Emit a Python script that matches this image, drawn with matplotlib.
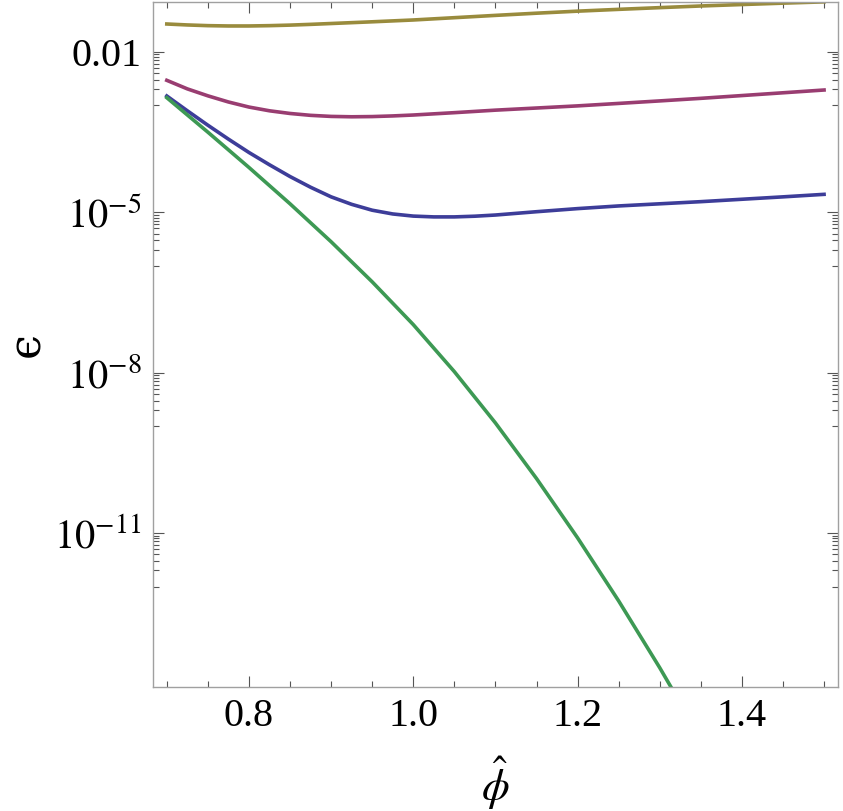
import numpy as np
import matplotlib
matplotlib.use("Agg")
import matplotlib.pyplot as plt
from matplotlib.ticker import FixedLocator, NullFormatter

plt.rcParams['font.family'] = ['Liberation Serif', 'DejaVu Serif']
plt.rcParams['mathtext.fontset'] = 'stix'

# phi-hat and log10(epsilon)
phi_olive = [0.700, 0.725, 0.750, 0.775, 0.800, 0.825, 0.850, 0.875, 0.900, 0.950,
             1.000, 1.050, 1.100, 1.150, 1.200, 1.250, 1.300, 1.350, 1.400, 1.450, 1.500]
log_olive = [-1.476, -1.494, -1.507, -1.513, -1.513, -1.507, -1.497, -1.483, -1.467, -1.435,
             -1.401, -1.358, -1.315, -1.274, -1.236, -1.202, -1.170, -1.139, -1.112, -1.086, -1.062]

phi_magenta = [0.700, 0.725, 0.750, 0.775, 0.800, 0.825, 0.850, 0.875, 0.900, 0.925,
               0.950, 0.975, 1.000, 1.050, 1.100, 1.150, 1.200, 1.250, 1.300, 1.350,
               1.400, 1.450, 1.500]
log_magenta = [-2.530, -2.690, -2.820, -2.935, -3.030, -3.100, -3.150, -3.185, -3.205, -3.212,
               -3.208, -3.196, -3.179, -3.135, -3.088, -3.048, -3.008, -2.962, -2.915, -2.867,
               -2.815, -2.763, -2.711]

phi_blue = [0.700, 0.725, 0.750, 0.775, 0.800, 0.825, 0.850, 0.875, 0.900, 0.925,
            0.950, 0.975, 1.000, 1.025, 1.050, 1.075, 1.100, 1.150, 1.200, 1.250,
            1.300, 1.350, 1.400, 1.450, 1.500]
log_blue = [-2.823, -3.100, -3.370, -3.630, -3.880, -4.110, -4.330, -4.530, -4.710, -4.850,
            -4.960, -5.030, -5.070, -5.085, -5.085, -5.072, -5.050, -4.988, -4.930, -4.880,
            -4.840, -4.800, -4.755, -4.710, -4.663]

phi_green = [0.70, 0.75, 0.80, 0.85, 0.90, 0.95, 1.00, 1.05, 1.10, 1.15,
             1.20, 1.25, 1.30, 1.35]
log_green = [-2.855, -3.500, -4.160, -4.840, -5.550, -6.300, -7.100, -7.980, -8.940, -9.980,
             -11.090, -12.270, -13.520, -14.840]

colors = {
    'olive': (0.6, 0.547, 0.24),
    'magenta': (0.6, 0.24, 0.4428),
    'blue': (0.24, 0.24, 0.6),
    'green': (0.24, 0.6, 0.33),
}

fig = plt.figure(figsize=(8.43, 8.11), dpi=100)
ax = fig.add_axes([0.1811, 0.1529, 0.9941 - 0.1811, 0.9979 - 0.1529])

lw = 2.6
ax.plot(phi_olive, 10 ** np.array(log_olive), color=colors['olive'], lw=lw)
ax.plot(phi_magenta, 10 ** np.array(log_magenta), color=colors['magenta'], lw=lw)
ax.plot(phi_blue, 10 ** np.array(log_blue), color=colors['blue'], lw=lw)
ax.plot(phi_green, 10 ** np.array(log_green), color=colors['green'], lw=lw)

ax.set_yscale('log')
ax.set_xlim(0.6828, 1.517)
ax.set_ylim(10 ** -13.88, 10 ** -1.059)

# ticks
ax.xaxis.set_major_locator(FixedLocator([0.8, 1.0, 1.2, 1.4]))
ax.xaxis.set_minor_locator(FixedLocator(np.arange(0.70, 1.51, 0.05)))
ax.set_xticklabels(['0.8', '1.0', '1.2', '1.4'])

major_exp = [-2, -5, -8, -11]
ax.yaxis.set_major_locator(FixedLocator([10.0 ** e for e in major_exp]))
ax.set_yticklabels(['0.01', r'$10^{-5}$', r'$10^{-8}$', r'$10^{-11}$'])
minor_y = []
for e in major_exp:
    for k in range(1, 10):
        minor_y.append(k * 10.0 ** (e - 1))
ax.yaxis.set_minor_locator(FixedLocator(minor_y))
ax.yaxis.set_minor_formatter(NullFormatter())

ax.tick_params(which='both', direction='in', top=True, right=True,
               color='#555555', width=0.8)
ax.tick_params(which='major', length=8, labelsize=29, pad=8)
ax.tick_params(which='minor', length=4)

for s in ax.spines.values():
    s.set_color('#a0a0a0')
    s.set_linewidth(1.0)

# lunate epsilon as a plain character
ax.set_ylabel('\u03f5', fontsize=32, rotation=90, labelpad=4,
              family=['DejaVu Serif'])
ax.set_xlabel(r'$\hat{\phi}$', fontsize=32, labelpad=14)

fig.savefig('out.png', dpi=100)
